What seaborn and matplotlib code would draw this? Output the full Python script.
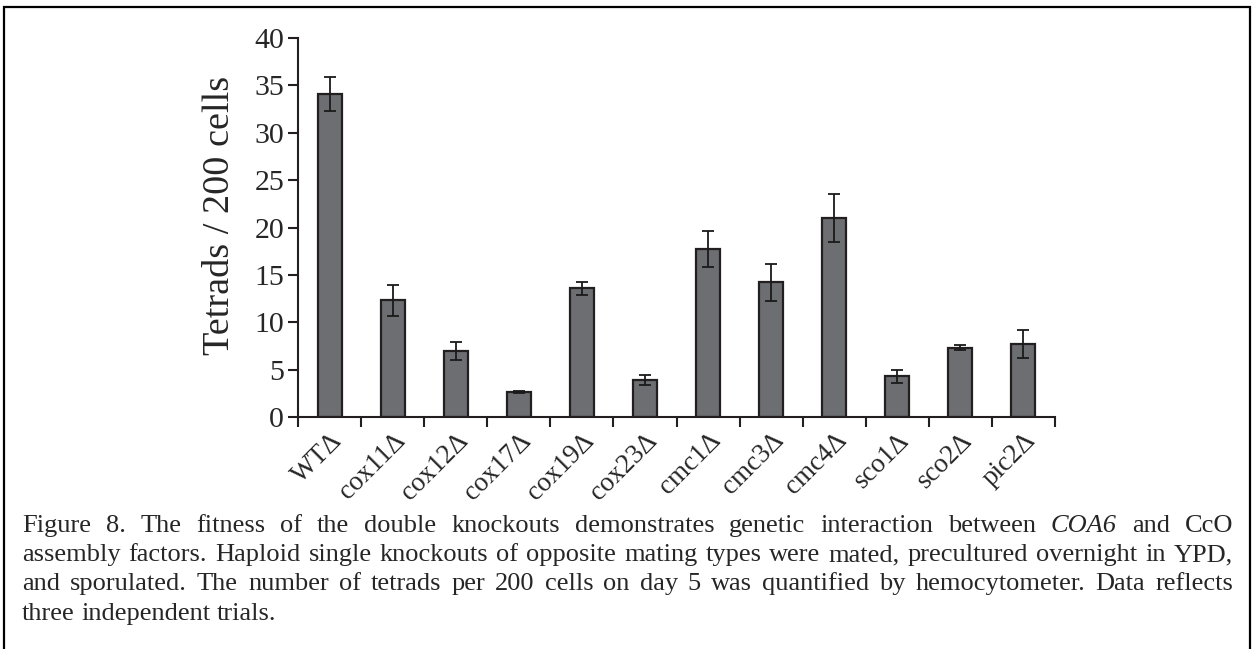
import pandas as pd
import matplotlib.pyplot as plt
import matplotlib.patches as patches
from matplotlib.ticker import FixedLocator
import seaborn as sns

# data
strains = ['WTΔ', 'cox11Δ', 'cox12Δ', 'cox17Δ', 'cox19Δ', 'cox23Δ',
           'cmc1Δ', 'cmc3Δ', 'cmc4Δ', 'sco1Δ', 'sco2Δ', 'pic2Δ']
tetrads = [34.1, 12.3, 7.0, 2.6, 13.6, 3.9, 17.7, 14.2, 21.0, 4.3, 7.3, 7.7]
err = [1.8, 1.6, 0.95, 0.1, 0.7, 0.55, 1.9, 1.95, 2.5, 0.7, 0.25, 1.5]
y_ticks = [0, 5, 10, 15, 20, 25, 30, 35, 40]

caption_lines = [
    [('Figure 8. The fitness of the double knockouts demonstrates genetic interaction between', 'normal'),
     ('COA6', 'italic'), ('and CcO', 'normal')],
    [('assembly factors. Haploid single knockouts of opposite mating types were mated, precultured overnight in YPD,', 'normal')],
    [('and sporulated. The number of tetrads per 200 cells on day 5 was quantified by hemocytometer.  Data reflects', 'normal')],
    [('three independent trials.', 'normal')],
]

df = pd.DataFrame({'strain': strains, 'tetrads': tetrads, 'err': err})

sns.set_style('white')
plt.rcParams['font.family'] = ['Liberation Serif', 'DejaVu Serif']

W, H = 1252, 649
fig = plt.figure(figsize=(W / 100, H / 100), dpi=100)
ax = fig.add_axes([298 / W, 1 - 417 / H, (1055 - 298) / W, (417 - 38) / H])

sns.barplot(data=df, x='strain', y='tetrads', color='#6d6e71', saturation=1,
            width=0.38, edgecolor='#231f20', linewidth=1.6, errorbar=None, ax=ax)
ax.errorbar(range(len(strains)), df['tetrads'], yerr=df['err'], fmt='none',
            ecolor='#1a1a1a', elinewidth=1.3, capsize=4, capthick=1.3)

ax.set_xlim(-0.5, len(strains) - 0.5)
ax.set_ylim(0, 40)
ax.set_yticks(y_ticks)
ax.set_ylabel('Tetrads / 200 cells', fontsize=27.5)
ax.yaxis.set_label_coords(-0.08, 0.532)
ax.set_xlabel('')
sns.despine(ax=ax)
for s in ['left', 'bottom']:
    ax.spines[s].set_linewidth(1.5)
    ax.spines[s].set_color('#231f20')

ax.tick_params(axis='y', direction='out', length=7, width=1.5, labelsize=21.5,
               color='#231f20', left=True, pad=3)
ax.xaxis.set_minor_locator(FixedLocator([i - 0.5 for i in range(len(strains) + 1)]))
ax.tick_params(axis='x', which='minor', direction='out', length=7, width=1.5,
               color='#231f20', bottom=True)
ax.tick_params(axis='x', which='major', length=0, labelsize=19.5, pad=8)
plt.setp(ax.get_xticklabels(), rotation=45, ha='right', rotation_mode='anchor')

# caption, justified like the source document
renderer = fig.canvas.get_renderer()
x0, x1 = 22, 1233
baselines = [532, 561, 590, 620]
for li, (parts, base) in enumerate(zip(caption_lines, baselines)):
    words = []
    for txt, style in parts:
        for w in txt.split(' '):
            if w:
                words.append((w, style))
    items = []
    for w, style in words:
        t = fig.text(0, 0, w, fontsize=19, fontstyle=style, va='baseline',
                     ha='left', transform=None)
        bb = t.get_window_extent(renderer)
        items.append((t, bb.width))
    total = sum(wd for _, wd in items)
    if li < len(caption_lines) - 1:
        gap = (x1 - x0 - total) / (len(items) - 1)
    else:
        gap = 6.5
    x = x0
    for t, wd in items:
        t.set_position((x, H - base))
        x += wd + gap

border = patches.Rectangle((4 / W, -0.05), (1250 - 4) / W, 1.05 - 7 / H,
                           transform=fig.transFigure, fill=False,
                           edgecolor='black', linewidth=1.6, clip_on=False)
fig.patches.append(border)

fig.savefig('out.png', dpi=100)
